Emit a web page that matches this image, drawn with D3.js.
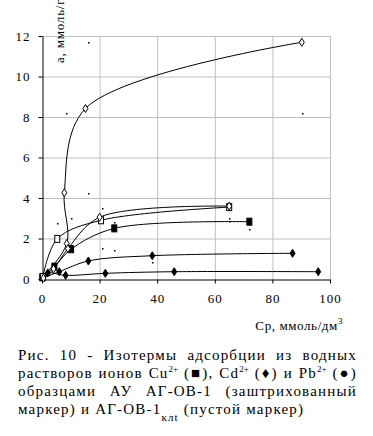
<!DOCTYPE html>
<html>
<head>
<meta charset="utf-8">
<script src="https://cdn.jsdelivr.net/npm/d3@7"></script>
<style>
  body { margin:0; background:#fff; }
  #wrap { position:relative; width:373px; height:436px; overflow:hidden; }
  svg { position:absolute; left:0; top:0; }
  .serif { font-family:'Liberation Serif','Times New Roman','DejaVu Serif',serif; }
  .tick text { font-family:'Liberation Serif','Times New Roman','DejaVu Serif',serif; font-size:13px; letter-spacing:1px; fill:#000; }
  #caption { position:absolute; left:18px; top:346px; width:339px;
             font-family:'Liberation Serif','Times New Roman','DejaVu Serif',serif;
             font-size:15px; letter-spacing:1.2px; line-height:18px; color:#000; }
  #caption div { text-align:justify; text-align-last:justify; white-space:nowrap; }
  #caption div.last { text-align-last:left; }
  sup { font-size:9px; vertical-align:6px; line-height:0; letter-spacing:0; }
  sub { font-size:11px; vertical-align:-7px; line-height:0; }
</style>
</head>
<body>
<div id="wrap"></div>
<script>
// tick values
var xTicks=[0,20,40,60,80,100];
var yTicks=[0,2,4,6,8,10,12];

// АГ-ОВ-1 (filled markers)
var cuFilled=[[0.1,0.08],[4.3,0.61],[10.1,1.47],[25.1,2.5],[72,2.83]];
var cdFilled=[[0.3,0.05],[6,0.36],[16.1,0.89],[38.3,1.15],[87,1.27]];
var pbFilled=[[0.5,0.1],[2,0.3],[8.2,0.18],[22,0.28],[45.9,0.36],[95.9,0.36]];

// АГ-ОВ-1клt (open markers)
var cdOpen=[[0.2,0.1],[8.6,1.75],[7.75,4.26],[15.1,8.42],[90.2,11.69]];
var cuOpen=[[0.3,0.1],[5.3,1.98],[20.5,2.9],[65,3.55]];
var pbOpen=[[0.5,0.05],[4,0.5],[9,1.5],[20,3.05],[65,3.6]];

// stray dots seen on the plot
var dots=[[15.9,11.7],[8.2,8.18],[90.2,8.18],[15.9,4.26],[10.2,3.0],[20.8,3.49],[20.8,1.52],
          [25.1,1.45],[5.1,2.78],[25.1,2.83],[65,3.0],[65,2.86],[72,2.45],[38.3,0.85]];

var W=373,H=340;
var svg=d3.select('#wrap').append('svg').attr('width',W).attr('height',H);

var x=d3.scaleLinear().domain([0,100]).range([42,330]);
var y=d3.scaleLinear().domain([0,12]).range([279,36]);

// grid
svg.append('g').selectAll('line').data(xTicks.slice(1)).enter().append('line')
    .attr('x1',function(d){return x(d)+0.5;}).attr('x2',function(d){return x(d)+0.5;})
    .attr('y1',y(12)).attr('y2',y(0))
    .style('stroke','#c0c0c0');
svg.append('g').selectAll('line').data(yTicks.slice(1)).enter().append('line')
    .attr('y1',function(d){return y(d)+0.5;}).attr('y2',function(d){return y(d)+0.5;})
    .attr('x1',x(0)).attr('x2',x(100))
    .style('stroke','#c0c0c0');

// axes
var xAxis=svg.append('g').attr('transform','translate(0,'+(y(0)+0.5)+')')
    .call(d3.axisBottom(x).tickValues(xTicks).tickSize(4).tickPadding(10).tickSizeOuter(0));
var yAxis=svg.append('g').attr('transform','translate('+(x(0)+0.5)+',0)')
    .call(d3.axisLeft(y).tickValues(yTicks).tickSize(4).tickPadding(8).tickSizeOuter(0));
svg.selectAll('.domain').style('stroke','#000');
svg.selectAll('.tick line').style('stroke','#000');
svg.selectAll('.tick text').attr('font-family',null).attr('font-size',null);

// axis titles
svg.append('text').attr('class','serif')
    .attr('transform','translate(64,63) rotate(-90)')
    .style('font-size','13px').style('letter-spacing','0.8px')
    .text('а, ммоль/г');
svg.append('text').attr('class','serif')
    .attr('x',343).attr('y',330).attr('text-anchor','end')
    .style('font-size','13px').style('letter-spacing','0.6px')
    .html('Ср, ммоль/дм<tspan dy="-6" font-size="9">3</tspan>');

// lines
var line=d3.line()
    .x(function(d){return x(d[0]);})
    .y(function(d){return y(d[1]);})
    .curve(d3.curveCatmullRom.alpha(0.5));

var series=[
    {data:cuFilled,marker:'square',fill:'#000'},
    {data:cdFilled,marker:'diamond',fill:'#000'},
    {data:pbFilled,marker:'diamond',fill:'#000'},
    {data:cdOpen,marker:'diamond',fill:'#fff'},
    {data:cuOpen,marker:'square',fill:'#fff'},
    {data:pbOpen,marker:'diamond',fill:'#fff'}
];

series.forEach(function(s){
    svg.append('path').attr('d',line(s.data))
        .style('fill','none').style('stroke','#000').style('stroke-width',1);
});

// markers
series.forEach(function(s){
    var g=svg.append('g');
    if(s.marker=='square'){
        g.selectAll('rect').data(s.data).enter().append('rect')
            .attr('x',function(d){return x(d[0])-2.5;})
            .attr('y',function(d){return y(d[1])-3.5;})
            .attr('width',5).attr('height',7)
            .style('fill',s.fill).style('stroke','#000').style('stroke-width',1);
    } else {
        g.selectAll('path').data(s.data).enter().append('path')
            .attr('d','M0,-4L2.5,0L0,4L-2.5,0Z')
            .attr('transform',function(d){return 'translate('+x(d[0])+','+y(d[1])+')';})
            .style('fill',s.fill).style('stroke','#000').style('stroke-width',1);
    }
});

svg.append('g').selectAll('rect').data(dots).enter().append('rect')
    .attr('x',function(d){return Math.round(x(d[0]));})
    .attr('y',function(d){return Math.round(y(d[1]));})
    .attr('width',1.5).attr('height',1.5)
    .style('fill','#000');

// caption
var cap=d3.select('#wrap').append('div').attr('id','caption');
cap.append('div').text('Рис. 10 - Изотермы адсорбции из водных');
cap.append('div').html('растворов ионов Cu<sup>2+</sup> (&#9632;), Cd<sup>2+</sup> (&#9830;) и Pb<sup>2+</sup> (&#9679;)');
cap.append('div').text('образцами АУ АГ-ОВ-1 (заштрихованный');
cap.append('div').attr('class','last').html('маркер) и АГ-ОВ-1<sub>клt</sub> (пустой маркер)');
</script>
</body>
</html>
